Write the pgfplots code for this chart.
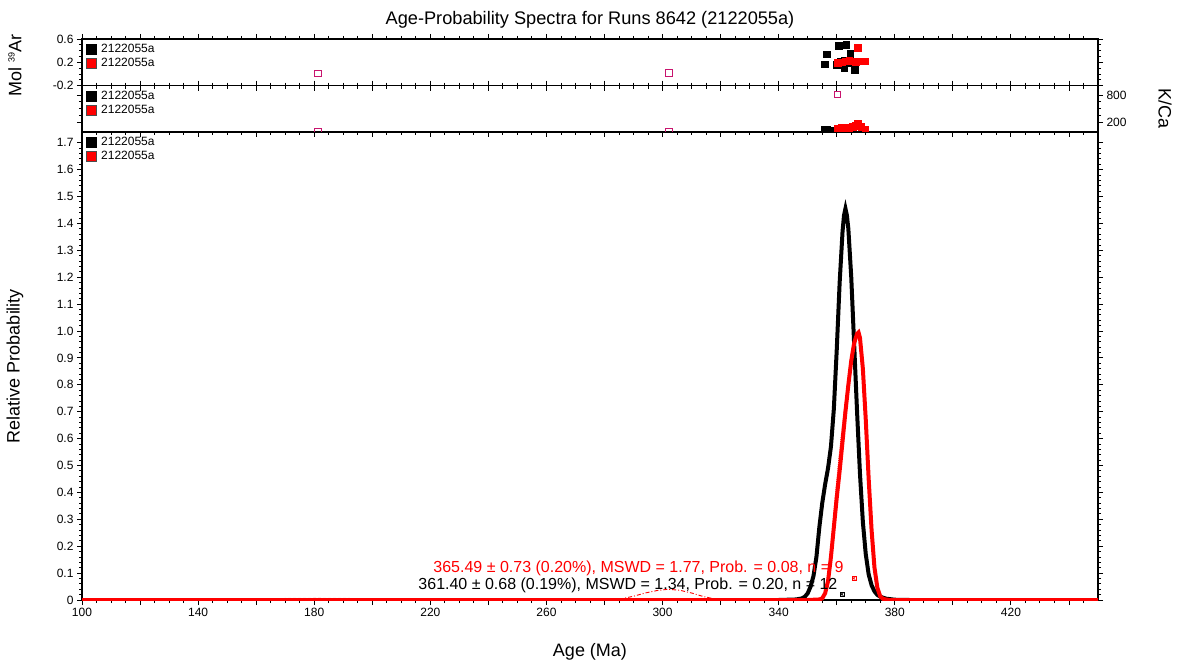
\documentclass[border=0pt]{standalone}
\usepackage{fontspec}
\setmainfont{Liberation Sans}
\usepackage{pgfplots}
\pgfplotsset{compat=1.18}
\definecolor{pinkm}{RGB}{200,20,110}
\pgfplotsset{
  panel/.style={
    scale only axis, width=1016pt, xmin=100, xmax=450,
    axis line style={line width=1.2pt},
    every tick/.style={line width=0.9pt, black},
    tick align=outside, major tick length=5pt, minor tick length=3pt,
    xtick={100,120,...,440}, minor xtick={105,110,...,445},
    ticklabel style={font=\fontsize{12}{12}\selectfont},
    /pgf/number format/assume math mode=true,
    legend style={at={(axis description cs:0,1)}, anchor=north west, draw=none, fill=none,
      inner xsep=4pt, inner ysep=3pt, font=\fontsize{12}{12}\selectfont, row sep=0.3pt,
      cells={anchor=west}, /tikz/every odd column/.append style={column sep=3pt}},
  },
  blk/.style={only marks, mark=square*, mark size=5pt, mark options={fill=black, draw=black}},
  rd/.style={only marks, mark=square*, mark size=5pt, mark options={fill=red, draw=black!70}},
}
\begin{document}
\begin{tikzpicture}
\path[use as bounding box] (-82pt,-64pt) rectangle (1096pt,600pt);
% ---------------- main panel
\begin{axis}[panel, name=main, at={(0pt,0pt)}, anchor=south west, height=468pt,
  ymin=0, ymax=1.74,
  ytick={0,0.1,0.2,0.3,0.4,0.5,0.6,0.7,0.8,0.9,1.0,1.1,1.2,1.3,1.4,1.5,1.6,1.7},
  yticklabels={0,0.1,0.2,0.3,0.4,0.5,0.6,0.7,0.8,0.9,1.0,1.1,1.2,1.3,1.4,1.5,1.6,1.7},
  minor y tick num=4,
  xticklabels={100,,140,,180,,220,,260,,300,,340,,380,,420,},
  xtick pos=bottom]
\addlegendimage{blk}\addlegendentry{2122055a}
\addlegendimage{rd}\addlegendentry{2122055a}
\addplot[black, line width=4pt, forget plot] coordinates {
(100,0) (340,0) (346,0.002) (348,0.006) (349,0.012) (350,0.025) (351,0.05) (352,0.09)
(353,0.16) (354,0.27) (355,0.36) (356,0.43) (357,0.49) (358,0.57) (359,0.71) (360,0.93)
(361,1.18) (362,1.37) (362.5,1.43) (363,1.455) (363.5,1.43) (364,1.38) (365,1.2) (366,0.95)
(367,0.70) (368,0.47) (369,0.29) (370,0.17) (371,0.095) (372,0.055) (373,0.032) (374,0.019)
(375,0.012) (377,0.005) (380,0.001) (385,0) (450,0)};
\addplot[red!25, line width=0.8pt, dash pattern=on 3pt off 2pt, forget plot] coordinates {
(140,0) (150,0.002) (160,0.004) (170,0.006) (181,0.007) (192,0.006) (202,0.004) (212,0.002) (222,0)};
\addplot[red, line width=0.9pt, dash pattern=on 4pt off 2pt on 1pt off 2pt, forget plot] coordinates {
(282,0) (286,0.005) (290,0.014) (294,0.026) (298,0.035) (302,0.04) (306,0.036) (310,0.026)
(314,0.013) (318,0.004) (322,0)};
\addplot[red, line width=1.1pt, densely dotted, forget plot] coordinates {
(356,0.02) (357,0.09) (358,0.18) (359,0.32) (360,0.44) (361,0.55) (362,0.65) (363,0.74)
(364,0.80) (365,0.87) (366,0.94)};
\addplot[red, line width=4pt, forget plot] coordinates {
(100,0) (350,0) (354,0.002) (355,0.006) (356,0.025) (357,0.07) (358,0.16) (359,0.27)
(360,0.38) (361,0.48) (362,0.59) (363,0.70) (364,0.80) (365,0.89) (366,0.955) (367,0.99)
(367.5,0.995) (368,0.975) (369,0.86) (370,0.67) (371,0.45) (372,0.26) (373,0.12)
(374,0.045) (375,0.013) (376,0.004) (378,0) (450,0)};
\addplot[only marks, red, mark=square, mark size=2pt, line width=0.6pt, forget plot] coordinates {(365.9,0.0806)};
\addplot[only marks, red, mark=x, mark size=2pt, line width=0.6pt, forget plot] coordinates {(365.9,0.0806)};
\addplot[only marks, black, mark=square, mark size=2pt, line width=0.6pt, forget plot] coordinates {(361.8,0.021)};
\addplot[only marks, black, mark=x, mark size=2pt, line width=0.6pt, forget plot] coordinates {(361.8,0.021)};
\node[anchor=base east, text=red, font=\fontsize{16}{16}\selectfont, inner sep=0pt]
  at (axis cs:362.4,0.101) {365.49 ± 0.73 (0.20\%), MSWD = 1.77, Prob. = 0.08, n = 9};
\node[anchor=base east, text=black, font=\fontsize{16}{16}\selectfont, inner sep=0pt]
  at (axis cs:360.3,0.0397) {361.40 ± 0.68 (0.19\%), MSWD = 1.34, Prob. = 0.20, n = 12};
\end{axis}
\node[rotate=90, font=\fontsize{18}{18}\selectfont] at ([xshift=-67pt]main.west) {Relative Probability};
\node[anchor=base, font=\fontsize{18}{18}\selectfont] at ([yshift=-56pt]main.south) {Age (Ma)};
% ---------------- middle panel (K/Ca)
\begin{axis}[panel, name=mid, at={(0pt,468pt)}, anchor=south west, height=46.3pt,
  ymin=0, ymax=1000, ytick={200,800}, yticklabels={200,800},
  minor ytick={350,500,650}, yticklabel pos=right,
  xticklabels={}, clip marker paths=true]
\addlegendimage{blk}\addlegendentry{2122055a}
\addlegendimage{rd}\addlegendentry{2122055a}
\addplot[only marks, mark=square, mark size=3.3pt, pinkm, line width=0.9pt, forget plot] coordinates {
(181.2,0) (302.2,0) (360.3,810)};
\addplot[only marks, mark=square*, mark size=3.3pt, black, forget plot] coordinates {
(355.8,45) (356.6,50) (357.3,40) (360.7,35) (361.3,50) (360.0,30) (362.6,55) (362.6,40)
(363.2,45) (364.0,45) (364.7,40) (365.2,35)};
\addplot[only marks, mark=square*, mark size=3.3pt, red, forget plot] coordinates {
(360.3,80) (361.8,90) (363.0,85) (364.3,95) (365.5,120) (366.6,140) (367.2,190) (368.4,110) (369.8,60)};
\end{axis}
\node[rotate=-90, font=\fontsize{18}{18}\selectfont] at ([xshift=67pt]mid.east) {K/Ca};
% ---------------- top panel (Mol 39Ar)
\begin{axis}[panel, name=top, at={(0pt,514.3pt)}, anchor=south west, height=46.7pt,
  ymin=-0.2, ymax=0.6, ytick={-0.2,0.2,0.6}, yticklabels={-0.2,0.2,0.6},
  minor ytick={-0.1,0,0.1,0.3,0.4,0.5},
  xticklabels={}]
\addlegendimage{blk}\addlegendentry{2122055a}
\addlegendimage{rd}\addlegendentry{2122055a}
\addplot[only marks, mark=square, mark size=3.3pt, pinkm, line width=0.9pt, forget plot] coordinates {
(181.2,0.01) (302.2,0.02) (360.3,0.18)};
\addplot[only marks, mark=square*, mark size=3.3pt, black, forget plot] coordinates {
(355.8,0.17) (356.6,0.34) (360.7,0.49) (363.2,0.50) (364.7,0.35) (362.6,0.24) (362.6,0.10)
(366.1,0.07) (361.3,0.21) (360.0,0.16) (364.0,0.19) (365.2,0.20)};
\addplot[only marks, mark=square*, mark size=3.3pt, red, forget plot] coordinates {
(360.3,0.19) (361.8,0.20) (363.0,0.22) (364.3,0.24) (365.5,0.22) (366.6,0.21) (367.2,0.45)
(368.4,0.22) (369.8,0.22)};
\end{axis}
\node[rotate=90, font=\fontsize{18}{18}\selectfont] at ([xshift=-67pt,yshift=-3pt]top.west)
  {Mol {\fontsize{9}{9}\selectfont\raisebox{0.75em}{39}}Ar};
\node[anchor=base, font=\fontsize{18.2}{18.2}\selectfont] at ([yshift=14pt]top.north)
  {Age-Probability Spectra for Runs 8642 (2122055a)};
\end{tikzpicture}
\end{document}
